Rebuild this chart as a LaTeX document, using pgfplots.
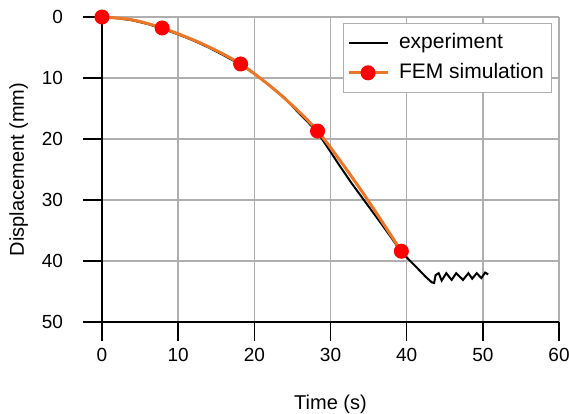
\documentclass[border=0pt]{standalone}
\usepackage{pgfplots}
\pgfplotsset{compat=1.18}
\usepackage{fontspec}
\setmainfont{Liberation Sans}
\definecolor{femorange}{RGB}{235,120,40}
\definecolor{gridgray}{RGB}{175,175,175}

\begin{document}
\begin{tikzpicture}
\begin{axis}[
    width=228.5pt, height=152.5pt, scale only axis,
    xmin=0, xmax=60, ymin=0, ymax=50,
    y dir=reverse,
    xtick={0,10,...,60}, ytick={0,10,...,50},
    axis x line*=bottom, axis y line*=left,
    axis line style={-, line width=0.75pt, black},
    tick align=outside, major tick length=9.5pt,
    tick style={black, line width=0.75pt},
    grid=major, grid style={gridgray, line width=0.75pt},
    /pgf/number format/assume math mode=true,
    tick label style={font=\fontsize{9.5}{11}\selectfont},
    yticklabel style={xshift=-6.5pt},
    label style={font=\fontsize{10}{12}\selectfont},
    xlabel={Time (s)}, ylabel={Displacement (mm)},
    xlabel style={yshift=-10pt},
    legend style={at={(0.985,0.98)}, anchor=north east, draw=gridgray,
        font=\fontsize{10.5}{12.5}\selectfont, row sep=2pt, column sep=3pt,
        inner xsep=2pt, inner ysep=3pt},
    legend cell align=left,
    legend image code/.code={
        \draw[#1, mark=none] (0pt,0pt) -- (19.5pt,0pt);
        \draw[#1, only marks] plot coordinates {(9.75pt,0pt)};},
]
\addplot[black, line width=1pt, no marks] coordinates {
    (0,0) (2,0.2) (4,0.55) (6,1.15) (8,1.95) (10,2.85) (12,3.85) (14,5.0)
    (16,6.3) (18.2,7.8) (20,9.3) (22,11.2) (24,13.3) (25.5,15.3) (27,17.2)
    (28.3,18.9) (29.9,21.9) (31.1,24.2) (32.8,27.3) (34.5,30.2) (36.5,33.6)
    (38,36.2) (39.2,38.4) (40.4,39.9) (41.5,41.3) (42.5,42.6) (43.3,43.5)
    (43.6,43.6) (43.8,42.3) (44.2,42.0) (44.6,43.2) (45.2,42.0) (45.9,43.1)
    (46.5,42.0) (47.4,43.1) (48.1,42.0) (48.6,42.9) (49.2,42.0) (49.8,42.8)
    (50.3,41.9) (50.7,42.2)
};
\addlegendentry{experiment}
\addplot[femorange, line width=1.5pt, smooth, mark=*, mark size=3pt,
    mark options={fill=red, draw=red}, mark indices={1,3,5,7,9}] coordinates {
    (0,0) (3.9,0.45) (7.9,1.8) (13,4.3) (18.2,7.7) (23.3,12.6) (28.3,18.7)
    (33.8,28.0) (39.3,38.4)
};
\addlegendentry{FEM simulation}
\end{axis}
\pgfresetboundingbox
\path ([xshift=-51pt,yshift=-46pt]current axis.south west)
    rectangle ([xshift=5pt,yshift=8.5pt]current axis.north east);
\end{tikzpicture}
\end{document}
